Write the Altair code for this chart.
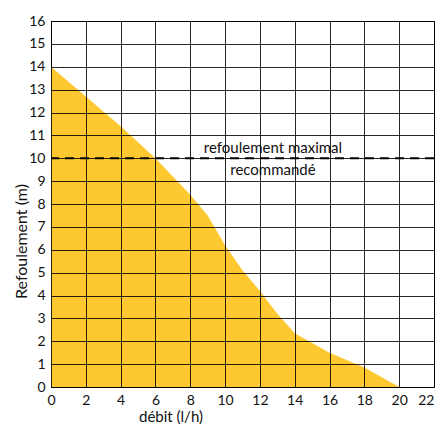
import altair as alt
import pandas as pd

debit = [0, 2, 4, 6, 8, 9, 10, 11, 12, 13, 14, 16, 18, 20]
refoulement = [14, 12.7, 11.4, 10.0, 8.4, 7.5, 6.2, 5.1, 4.2, 3.2, 2.35, 1.5, 0.85, 0]
x_ticks = list(range(0, 23, 2))
y_ticks = list(range(0, 17))
limit_value = 10
label_lines = ["refoulement maximal", "recommandé"]

df = pd.DataFrame({"debit": debit, "refoulement": refoulement})
FONT = "Lato"

x_scale = alt.Scale(domain=[0, 22], nice=False, zero=True)
y_scale = alt.Scale(domain=[0, 16], nice=False, zero=True)

x_axis = alt.Axis(values=x_ticks, title="débit  (l/h)", grid=True, gridColor="#000",
                  gridOpacity=0.85, domain=False, ticks=False, labelPadding=6,
                  labelFontSize=14, labelFont=FONT, labelColor="#111",
                  labelOverlap=False, labelFlush=False,
                  labelAlign={"expr": "datum.value == 22 ? 'right' : 'center'"},
                  titleFont=FONT, titleFontSize=15, titleFontWeight="normal",
                  titleColor="#111", titleX=119.5, titleY=34, titleAlign="center",
                  titleBaseline="alphabetic", zindex=1)
y_axis = alt.Axis(values=y_ticks, title="Refoulement (m)", grid=True, gridColor="#000",
                  gridOpacity=0.85, domain=False, ticks=False, labelPadding=6,
                  labelFontSize=14, labelFont=FONT, labelColor="#111",
                  labelOverlap=False, labelFlush=False,
                  titleFont=FONT, titleFontSize=16, titleFontWeight="normal",
                  titleColor="#111", titleX=-25, titleY=220, titleAngle=270,
                  titleAlign="center", titleBaseline="alphabetic", zindex=1)

area = alt.Chart(df).mark_area(color="#fdc830", opacity=1).encode(
    x=alt.X("debit:Q", scale=x_scale, axis=x_axis),
    y=alt.Y("refoulement:Q", scale=y_scale, axis=y_axis),
)

rule = alt.Chart(pd.DataFrame({"y": [limit_value]})).mark_rule(
    color="#000", strokeDash=[9, 6], strokeWidth=2
).encode(y=alt.Y("y:Q", scale=y_scale, axis=y_axis))

text_df = pd.DataFrame({"x": [12.75, 12.75], "y": [limit_value, limit_value],
                        "t": label_lines})
txt1 = alt.Chart(text_df.iloc[[0]]).mark_text(font=FONT, fontSize=15, color="#111",
                                             dy=-10, baseline="middle").encode(
    x=alt.X("x:Q", scale=x_scale, axis=x_axis), y=alt.Y("y:Q", scale=y_scale, axis=y_axis),
    text="t:N")
txt2 = alt.Chart(text_df.iloc[[1]]).mark_text(font=FONT, fontSize=15, color="#111",
                                             dy=12, baseline="middle").encode(
    x=alt.X("x:Q", scale=x_scale, axis=x_axis), y=alt.Y("y:Q", scale=y_scale, axis=y_axis),
    text="t:N")

chart = alt.layer(area, rule, txt1, txt2).properties(
    width=383, height=366,
    autosize=alt.AutoSizeParams(type="none"),
    padding={"left": 43, "top": 13, "right": 1, "bottom": 37}
).configure_view(stroke="#000", strokeWidth=1)

chart.save("out.html", embed_options={"renderer": "svg", "actions": False})
